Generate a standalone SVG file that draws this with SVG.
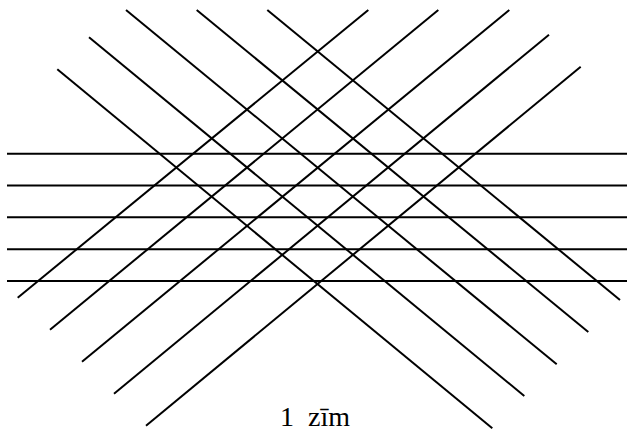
<svg xmlns="http://www.w3.org/2000/svg" width="627" height="433" viewBox="0 0 627 433">
  <style>
    .ln { stroke: #000; stroke-width: 2; fill: none; }
    .cap { font-family: "Liberation Serif", "Times New Roman", serif; font-size: 28px; fill: #000; }
  </style>
  <rect width="627" height="433" fill="#fff"/>
  <g id="horizontal">
    <line class="ln" x1="7" y1="153.7" x2="627" y2="153.7"/>
    <line class="ln" x1="7" y1="185.5" x2="627" y2="185.5"/>
    <line class="ln" x1="7" y1="217.3" x2="627" y2="217.3"/>
    <line class="ln" x1="7" y1="249.2" x2="627" y2="249.2"/>
    <line class="ln" x1="7" y1="281.1" x2="627" y2="281.1"/>
  </g>
  <g id="descending">
    <line class="ln" x1="57.3" y1="69.3" x2="492.3" y2="428.3"/>
    <line class="ln" x1="89" y1="37.3" x2="524.3" y2="396"/>
    <line class="ln" x1="126" y1="10" x2="556.7" y2="364.3"/>
    <line class="ln" x1="196.7" y1="10" x2="588.3" y2="332"/>
    <line class="ln" x1="267.3" y1="10" x2="620" y2="300"/>
  </g>
  <g id="ascending">
    <line class="ln" x1="368.3" y1="10" x2="17.7" y2="297.7"/>
    <line class="ln" x1="438.3" y1="10" x2="50" y2="329.7"/>
    <line class="ln" x1="509.3" y1="10" x2="82" y2="361.7"/>
    <line class="ln" x1="549" y1="34.7" x2="114" y2="393.7"/>
    <line class="ln" x1="580.7" y1="66.7" x2="146" y2="425.7"/>
  </g>
  <text class="cap" x="280" y="426" xml:space="preserve">1  zīm</text>
</svg>
